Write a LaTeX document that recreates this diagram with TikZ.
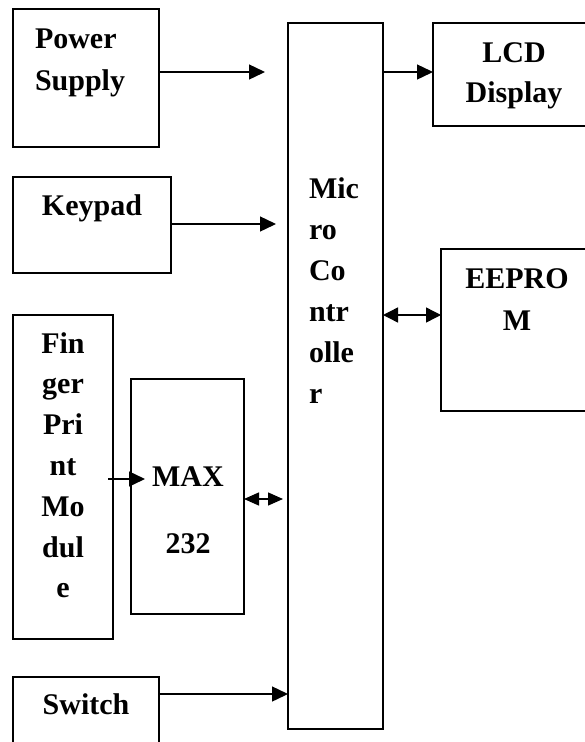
\documentclass[tikz,border=0pt]{standalone}
\usepackage{fontspec}
\setmainfont{Liberation Serif}
\usetikzlibrary{arrows.meta}
\newcommand\cstk[2]{\vtop{\baselineskip=#1\lineskiplimit=-100pt\lineskip=0pt\halign{\hfil##\hfil\cr#2\crcr}}}
\newcommand\lstk[2]{\vtop{\baselineskip=#1\lineskiplimit=-100pt\lineskip=0pt\halign{##\hfil\cr#2\crcr}}}
\begin{document}
\begin{tikzpicture}[x=1pt,y=-1pt,
  box/.style={draw, line width=1.5pt, inner sep=0pt, outer sep=0pt},
  txt/.style={inner sep=0pt, outer sep=0pt, font=\fontsize{30}{41}\selectfont\bfseries},
  arr/.style={line width=1.4pt, -{Triangle[length=16pt,width=15pt]}},
  darr/.style={line width=1.4pt, {Triangle[length=15pt,width=15pt]}-{Triangle[length=15pt,width=15pt]}},
  sdarr/.style={line width=1.4pt, {Triangle[length=15pt,width=13pt]}-{Triangle[length=15pt,width=13pt]}}]
\useasboundingbox (0,0) rectangle (585,742);
\clip (0,0) rectangle (585,742);
% boxes
\node[box, minimum width=146pt, minimum height=138pt] (ps)  at (86,78) {};
\node[box, minimum width=158pt, minimum height=96pt]  (kp)  at (92,225) {};
\node[box, minimum width=100pt, minimum height=324pt] (fp)  at (63,477) {};
\node[box, minimum width=113pt, minimum height=235pt] (max) at (187.5,496.5) {};
\node[box, minimum width=146pt, minimum height=112pt] (sw)  at (86,733) {};
\node[box, minimum width=95pt,  minimum height=706pt] (mc)  at (335.5,376) {};
\node[box, minimum width=163pt, minimum height=103pt] (lcd) at (514.5,74.5) {};
\node[box, minimum width=152pt, minimum height=162pt] (eep) at (517,330) {};
% texts
\node[txt, anchor=base west] (pst) at (35,48) {\lstk{42pt}{Power\cr Supply}};
\node[txt, anchor=base] (kpt) at (92,215) {Keypad};
\node[txt, anchor=base] (fpt) at (63,353) {\cstk{40.8pt}{Fin\cr ger\cr Pri\cr nt\cr Mo\cr dul\cr e}};
\node[txt, anchor=base] (maxt) at (188,486) {\cstk{67pt}{MAX\cr 232}};
\node[txt, anchor=base] (swt) at (86,714) {Switch};
\node[txt, anchor=base west] (mct) at (309,198) {\lstk{41pt}{Mic\cr ro\cr Co\cr ntr\cr olle\cr r}};
\node[txt, anchor=base] (lcdt) at (514,62) {\cstk{40pt}{LCD\cr Display}};
\node[txt, anchor=base] (eept) at (517,288) {\cstk{42pt}{EEPRO\cr M}};
% connectors
\draw[arr, shorten >=23pt] (ps.east |- 0,72) -- (mc.west |- 0,72);
\draw[arr] (mc.east |- 0,72) -- (lcd.west |- 0,72);
\draw[arr, shorten >=12pt] (kp.east |- 0,224) -- (mc.west |- 0,224);
\draw[darr] (mc.east |- 0,315) -- (eep.west |- 0,315);
\draw[arr, shorten <=-5pt, shorten >=-14pt] (fp.east |- 0,479) -- (max.west |- 0,479);
\draw[sdarr, shorten >=5pt] (max.east |- 0,499) -- (mc.west |- 0,499);
\draw[arr] (sw.east |- 0,694) -- (mc.west |- 0,694);
\end{tikzpicture}
\end{document}
